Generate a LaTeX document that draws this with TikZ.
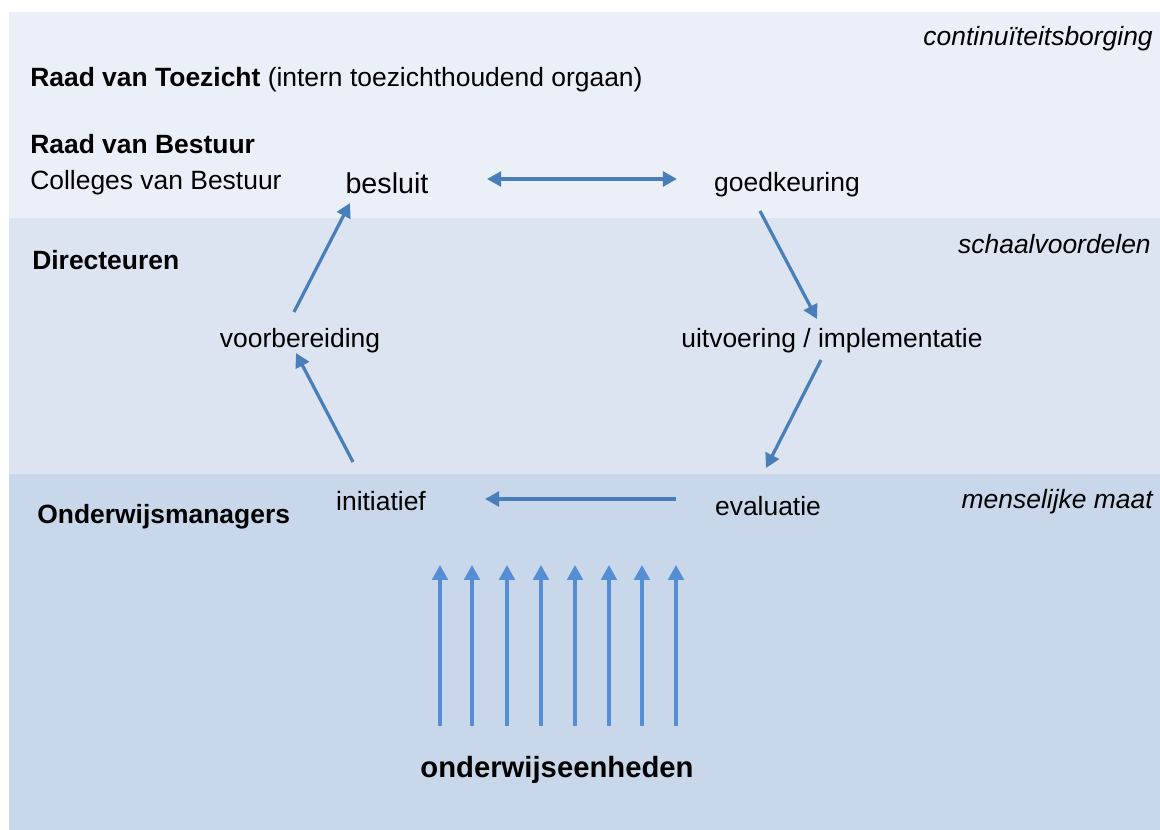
\documentclass[tikz,border=0pt]{standalone}
\usepackage{fontspec}
\setmainfont{Liberation Sans}
\usepackage{tikz}
\usetikzlibrary{arrows.meta}
\definecolor{laagboven}{HTML}{EBF0F8}
\definecolor{laagmidden}{HTML}{DBE4F0}
\definecolor{laagonder}{HTML}{C8D8EA}
\definecolor{pijlblauw}{HTML}{4A7EBB}
\definecolor{stroomblauw}{HTML}{558ED5}
\tikzset{
    tekst/.style   = {inner sep=0pt, font=\fontsize{18.8pt}{22pt}\selectfont},
    kop/.style     = {tekst, font=\fontsize{18.8pt}{22pt}\selectfont\bfseries},
    kant/.style    = {tekst, font=\fontsize{18.8pt}{22pt}\selectfont\itshape, anchor=base east},
    stap/.style    = {tekst, anchor=base},
    pijl/.style    = {-{Triangle[length=10pt, width=10.5pt]}, line width=2.3pt, pijlblauw},
    stroom/.style  = {-{Triangle[length=10.5pt, width=11pt]}, line width=2.2pt, stroomblauw}
}

\begin{document}
\begin{tikzpicture}[x=0.025cm, y=-0.025cm]
        \useasboundingbox (0,0) rectangle (1160,830);

        % --- lagen ---
        \fill[laagboven]  (9,12)  rectangle (1160,218);
        \fill[laagmidden] (9,218) rectangle (1160,474);
        \fill[laagonder]  (9,474) rectangle (1160,830);

        % --- niveaus ---
        \node[kant] (borging) at (1153,45)  {continuïteitsborging};
        \node[tekst, anchor=base west] (rvt) at (30,86) {\textbf{Raad van Toezicht} (intern toezichthoudend orgaan)};
        \node[kop,   anchor=base west] (rvb) at (30,153) {Raad van Bestuur};
        \node[tekst, anchor=base west] (cvb) at (30,189) {Colleges van Bestuur};
        \node[kant] (schaal)  at (1151,253) {schaalvoordelen};
        \node[kop,   anchor=base west] (dir) at (32,269) {Directeuren};
        \node[kant] (maat)    at (1153,508) {menselijke maat};
        \node[kop,   anchor=base west] (om)  at (37,523) {Onderwijsmanagers};

        % --- cyclus ---
        \node[stap, font=\fontsize{20.4pt}{24pt}\selectfont] (besluit) at (387,193) {besluit};
        \node[stap] (goedk)  at (787,191) {goedkeuring};
        \node[stap] (uitv)   at (832,347) {uitvoering / implementatie};
        \node[stap] (eval)   at (768,515) {evaluatie};
        \node[stap] (init)   at (381,510) {initiatief};
        \node[stap] (voorb)  at (300,347) {voorbereiding};

        \draw[pijl, {Triangle[length=10pt, width=10.5pt]}-{Triangle[length=10pt, width=10.5pt]}]
            ([shift={(100,-14)}]besluit.base) -- ([shift={(-110,-12)}]goedk.base);
        \draw[pijl] ([shift={(-27,20)}]goedk.base) -- ([shift={(-15,-28)}]uitv.base);
        \draw[pijl] ([shift={(-11,13)}]uitv.base) -- ([shift={(-2,-47)}]eval.base);
        \draw[pijl] ([shift={(-92,-16)}]eval.base) -- ([shift={(104,-11)}]init.base);
        \draw[pijl] ([shift={(-28,-48)}]init.base) -- ([shift={(-4,6)}]voorb.base);
        \draw[pijl] ([shift={(-6,-35)}]voorb.base) -- ([shift={(-37,10)}]besluit.base);

        % --- onderwijseenheden ---
        \node[stap, font=\fontsize{20.8pt}{24pt}\selectfont\bfseries] (oe) at (557,777) {onderwijseenheden};

        \draw[stroom] ([shift={(-117,-51)}]oe.base) -- ([shift={(-117,-212)}]oe.base);
        \draw[stroom] ([shift={(-85,-51)}]oe.base)  -- ([shift={(-85,-212)}]oe.base);
        \draw[stroom] ([shift={(-50,-51)}]oe.base)  -- ([shift={(-50,-212)}]oe.base);
        \draw[stroom] ([shift={(-16,-51)}]oe.base)  -- ([shift={(-16,-212)}]oe.base);
        \draw[stroom] ([shift={(18,-51)}]oe.base)   -- ([shift={(18,-212)}]oe.base);
        \draw[stroom] ([shift={(52,-51)}]oe.base)   -- ([shift={(52,-212)}]oe.base);
        \draw[stroom] ([shift={(85,-51)}]oe.base)   -- ([shift={(85,-212)}]oe.base);
        \draw[stroom] ([shift={(119,-51)}]oe.base)  -- ([shift={(119,-212)}]oe.base);
    \end{tikzpicture}
\end{document}
